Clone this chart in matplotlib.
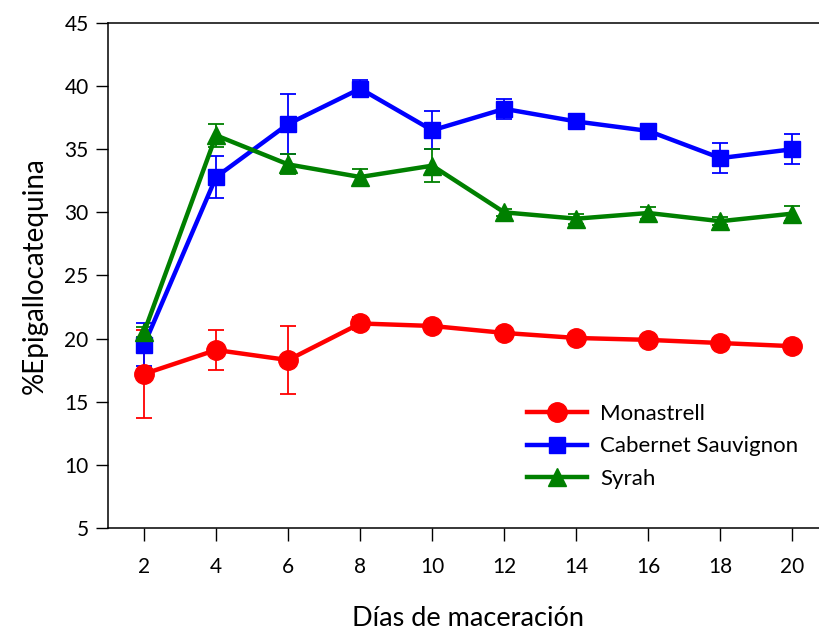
import matplotlib
matplotlib.use("Agg")
import matplotlib.pyplot as plt

# Días de maceración
dias = [2, 4, 6, 8, 10, 12, 14, 16, 18, 20]

monastrell = [17.2, 19.1, 18.3, 21.2, 21.0, 20.45, 20.05, 19.9, 19.65, 19.4]
monastrell_err = [3.5, 1.6, 2.7, 0.5, 0.3, 0.3, 0.3, 0.3, 0.3, 0.3]

cabernet = [19.5, 32.8, 37.0, 39.8, 36.5, 38.2, 37.2, 36.45, 34.3, 35.0]
cabernet_err = [1.7, 1.7, 2.4, 0.7, 1.5, 0.8, 0.3, 0.3, 1.2, 1.2]

syrah = [20.5, 36.1, 33.8, 32.8, 33.7, 30.0, 29.5, 29.95, 29.3, 29.9]
syrah_err = [0.4, 0.9, 0.8, 0.6, 1.3, 0.3, 0.4, 0.5, 0.3, 0.6]

x_ticks = [2, 4, 6, 8, 10, 12, 14, 16, 18, 20]
y_ticks = [5, 10, 15, 20, 25, 30, 35, 40, 45]

plt.rcParams["font.family"] = ["Lato", "DejaVu Sans"]

fig = plt.figure(figsize=(8.19, 6.32), dpi=100)
ax = fig.add_axes([0.1319, 0.1646, 0.8797, 0.799])

series = [
    (monastrell, monastrell_err, "#ff0000", "o", 14, "Monastrell"),
    (cabernet, cabernet_err, "#0000ff", "s", 11.5, "Cabernet Sauvignon"),
    (syrah, syrah_err, "#008000", "^", 12.5, "Syrah"),
]
handles, labels = [], []
for vals, err, color, marker, ms, label in series:
    cont = ax.errorbar(dias, vals, yerr=err, color=color, marker=marker,
                       markersize=ms, linewidth=3.2, elinewidth=1.3,
                       capsize=6, capthick=1.3, label=label)
    handles.append(cont.lines[0])
    labels.append(label)

ax.set_xlim(1, 21)
ax.set_ylim(5, 45)
ax.set_xticks(x_ticks)
ax.set_yticks(y_ticks)
ax.tick_params(axis="both", direction="out", length=9, width=1, labelsize=15,
               pad=5)
ax.tick_params(axis="x", pad=12)
ax.spines["right"].set_visible(False)
for side in ("left", "bottom", "top"):
    ax.spines[side].set_linewidth(1.1)

ax.set_ylabel("%Epigallocatequina", fontsize=20, labelpad=12)
fig.text(468 / 819, 1 - 619 / 632, "Días de maceración", fontsize=19.5,
         ha="center", va="center")

ax.legend(handles, labels, loc="upper left", bbox_to_anchor=(0.5815, 0.245),
          frameon=False, fontsize=16, handlelength=2.7, handletextpad=0.6,
          labelspacing=0.55, borderpad=0, borderaxespad=0)

fig.savefig("out.png", dpi=100)
